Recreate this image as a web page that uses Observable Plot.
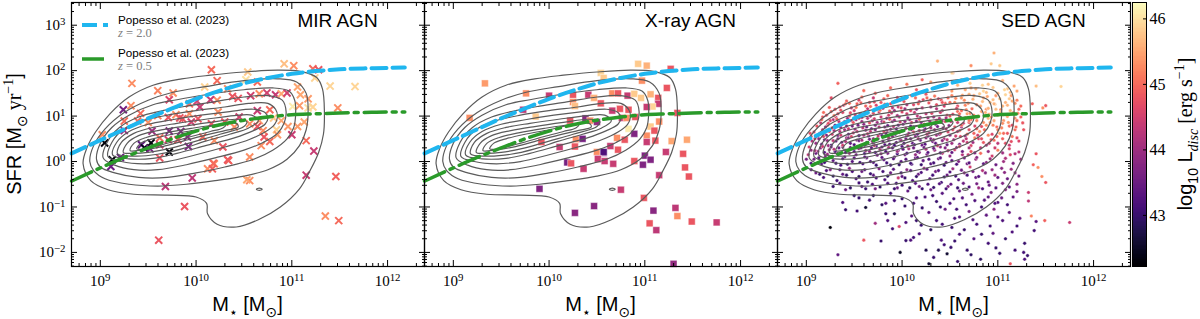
<!DOCTYPE html>
<html><head><meta charset="utf-8">
<script src="https://cdn.jsdelivr.net/npm/d3@7"></script>
<script src="https://cdn.jsdelivr.net/npm/@observablehq/plot@0.6"></script>
<style>
body{margin:0;background:#fff;}
#wrap{position:relative;width:1200px;height:319px;overflow:hidden;background:#fff;}
#wrap svg{position:absolute;top:0;background:none;overflow:visible;}
</style></head><body><div id="wrap"></div>
<script>
// ---------------- data (log10 M*, log10 SFR, log10 Ldisc) ----------------
const panelTitles = ["MIR AGN", "X-ray AGN", "SED AGN"];
const xTickValues = [1e9, 1e10, 1e11, 1e12];
const yTickValues = [1e-2, 1e-1, 1, 10, 100, 1000];
const cbTickValues = [43, 44, 45, 46];
const legendLabels = ["Popesso et al. (2023)", "z = 2.0", "z = 0.5"];

const popessoLogM = [8.70, 9.00, 9.25, 9.50, 9.75, 10.00, 10.25, 10.50, 10.75, 11.00, 11.25, 11.50, 11.75, 12.00, 12.18];
const popessoZ20  = [0.18, 0.47, 0.71, 0.95, 1.17, 1.38, 1.56, 1.72, 1.84, 1.93, 1.99, 2.03, 2.05, 2.06, 2.07];
const popessoZ05  = [-0.43, -0.14, 0.09, 0.30, 0.50, 0.67, 0.81, 0.91, 0.98, 1.03, 1.05, 1.07, 1.08, 1.09, 1.09];

const contour1 = [[8.82,-0.05],[8.86,0.30],[8.95,0.65],[9.10,1.05],[9.30,1.42],[9.55,1.68],[9.85,1.82],[10.15,1.90],[10.50,1.97],[10.85,2.01],[11.10,1.98],[11.26,1.85],[11.32,1.60],[11.34,1.10],[11.33,0.60],[11.28,0.20],[11.19,-0.20],[11.08,-0.60],[10.88,-1.00],[10.65,-1.28],[10.42,-1.44],[10.22,-1.38],[10.12,-1.15],[10.11,-0.92],[10.00,-0.78],[9.70,-0.74],[9.35,-0.72],[9.08,-0.62],[8.90,-0.42]];
const contour2 = [[8.89,0.00],[8.93,0.35],[9.05,0.72],[9.25,1.08],[9.50,1.35],[9.75,1.52],[10.10,1.65],[10.50,1.78],[10.85,1.82],[11.05,1.75],[11.15,1.50],[11.17,1.10],[11.15,0.70],[11.08,0.35],[10.95,0.05],[10.75,-0.18],[10.50,-0.32],[10.20,-0.42],[9.90,-0.50],[9.60,-0.54],[9.30,-0.50],[9.05,-0.38],[8.93,-0.20]];
const contour3 = [[8.96,0.05],[9.00,0.40],[9.12,0.75],[9.30,1.02],[9.55,1.25],[9.80,1.36],[10.10,1.47],[10.50,1.58],[10.80,1.62],[10.97,1.55],[11.03,1.35],[11.04,1.05],[11.02,0.75],[10.95,0.50],[10.80,0.25],[10.60,0.05],[10.30,-0.12],[10.00,-0.25],[9.70,-0.35],[9.40,-0.35],[9.15,-0.25],[9.00,-0.12]];
const contour4 = [[9.03,0.08],[9.07,0.42],[9.20,0.75],[9.40,0.98],[9.65,1.12],[9.90,1.22],[10.20,1.32],[10.50,1.42],[10.75,1.45],[10.90,1.35],[10.94,1.10],[10.92,0.85],[10.85,0.62],[10.70,0.42],[10.50,0.25],[10.20,0.08],[9.90,-0.07],[9.60,-0.18],[9.35,-0.18],[9.15,-0.08]];
const contour5 = [[9.08,0.11],[9.12,0.42],[9.25,0.72],[9.45,0.90],[9.70,1.02],[10.00,1.12],[10.30,1.20],[10.55,1.28],[10.75,1.28],[10.83,1.15],[10.85,0.98],[10.82,0.82],[10.72,0.65],[10.55,0.48],[10.30,0.32],[10.00,0.15],[9.70,0.00],[9.45,-0.05],[9.22,0.00]];
const contour6 = [[9.13,0.14],[9.17,0.42],[9.30,0.66],[9.50,0.82],[9.75,0.92],[10.05,1.02],[10.35,1.10],[10.60,1.15],[10.72,1.08],[10.75,0.95],[10.72,0.82],[10.60,0.68],[10.40,0.52],[10.10,0.35],[9.80,0.18],[9.55,0.07],[9.30,0.06]];
const contour7 = [[9.18,0.17],[9.22,0.42],[9.35,0.62],[9.55,0.75],[9.80,0.84],[10.10,0.93],[10.40,1.01],[10.58,1.02],[10.65,0.90],[10.55,0.74],[10.35,0.60],[10.10,0.45],[9.85,0.28],[9.60,0.16],[9.35,0.12]];
const contour8 = [[9.24,0.20],[9.28,0.40],[9.40,0.57],[9.60,0.68],[9.85,0.77],[10.15,0.86],[10.42,0.93],[10.53,0.88],[10.50,0.77],[10.25,0.60],[10.00,0.45],[9.75,0.30],[9.50,0.20],[9.32,0.18]];
const contour9 = [[9.31,0.24],[9.35,0.40],[9.48,0.53],[9.68,0.63],[9.95,0.73],[10.25,0.82],[10.42,0.84],[10.44,0.76],[10.30,0.68],[10.10,0.58],[9.88,0.46],[9.65,0.33],[9.45,0.26]];
const contour10 = [[9.38,0.28],[9.42,0.40],[9.55,0.50],[9.75,0.60],[10.00,0.70],[10.22,0.80],[10.31,0.81],[10.28,0.74],[10.15,0.66],[9.95,0.55],[9.75,0.43],[9.55,0.32],[9.44,0.27]];
const contourIsland = [[10.63,-0.61],[10.66,-0.585],[10.69,-0.61],[10.66,-0.635]];

const mirAGN = [
[10.16,2.02,45.0],[9.33,1.72,45.3],[9.60,1.56,45.2],[9.76,1.51,45.3],[9.72,1.36,44.6],[9.93,1.27,45.0],[10.01,1.33,44.5],[10.09,1.64,45.9],[10.22,1.78,45.0],[10.33,1.60,45.3],
[9.24,1.14,43.6],[9.32,1.23,45.3],[9.42,1.06,45.0],[9.25,0.89,45.0],[9.39,0.89,45.0],[9.50,0.86,45.3],[9.60,1.01,45.2],[9.71,0.97,44.8],[9.79,1.03,45.3],[9.86,0.94,44.8],
[9.95,0.87,44.5],[10.02,0.94,44.8],[10.16,0.83,44.8],[10.23,1.09,45.3],[10.30,0.87,44.8],[10.40,0.76,45.3],[10.45,0.98,44.5],[9.25,0.68,44.0],[9.54,0.67,44.0],[9.72,0.67,43.7],
[9.84,0.66,43.7],[9.62,0.52,45.0],[9.71,0.48,44.5],[9.81,0.48,44.8],[9.91,0.54,43.8],[9.43,0.37,43.4],[9.53,0.41,42.3],[9.46,0.30,42.4],[9.52,0.28,43.6],[9.62,0.37,44.5],
[9.92,0.33,43.7],[10.07,0.54,45.0],[10.19,0.46,45.3],[10.28,0.32,44.8],[9.72,0.21,42.3],[9.62,0.08,44.8],[9.045,0.41,42.3],[9.02,0.59,45.3],[9.125,0.04,42.3],[9.21,0.09,43.5],
[9.11,-0.11,43.5],[10.33,0.04,44.8],[10.19,-0.05,45.3],[10.12,-0.16,45.3],[9.96,-0.36,44.3],[9.68,-0.55,44.3],[9.88,-0.99,44.8],[9.61,-1.73,44.8],
[10.38,1.43,44.8],[10.44,1.39,44.8],[10.22,1.35,45.3],[10.15,1.36,44.4],[10.04,1.20,44.4],[9.93,1.05,45.3],[9.83,0.96,44.8],
[10.92,2.15,45.7],[11.02,2.11,45.3],[11.22,2.04,45.0],[11.28,2.02,44.8],[11.24,1.84,45.9],[11.40,1.66,45.9],[11.66,1.65,45.9],[10.64,1.75,45.0],[10.54,1.97,45.8],[10.52,1.80,46.0],
[10.57,1.45,44.5],[10.66,1.49,45.3],[10.74,1.51,44.5],[10.83,1.47,44.4],[10.89,1.49,45.5],[10.95,1.51,44.5],[11.06,1.64,45.5],[11.09,1.47,45.5],[11.17,1.38,45.4],[10.64,1.12,44.4],
[10.77,1.14,45.0],[11.01,1.21,46.1],[11.08,1.23,45.4],[11.17,1.18,46.0],[11.22,1.20,45.9],[11.48,1.18,45.3],[10.56,0.83,45.3],[10.66,0.90,45.4],[10.81,0.96,45.8],[10.89,0.90,45.5],
[10.64,0.77,44.8],[10.70,0.68,45.3],[10.84,0.70,45.9],[10.96,0.77,45.4],[11.06,0.77,45.4],[11.13,0.87,45.5],[11.00,0.59,44.4],[10.71,0.54,44.8],[10.77,0.44,45.0],[10.85,0.59,45.4],
[10.68,0.35,45.3],[10.56,0.10,45.3],[11.15,0.46,45.0],[11.23,0.23,44.4],[10.56,-0.42,45.3],[10.53,-0.40,45.5],[11.15,-0.30,44.4],[11.46,-0.33,44.9],[11.35,-1.20,45.3],[11.49,-1.30,45.0],
[10.18,-0.04,45.0],[10.17,-0.16,44.9],[10.34,0.02,44.9]
];

const xrayAGN = [
[9.33,1.72,45.4],[9.17,0.96,45.3],[9.76,1.50,45.3],[10.00,1.45,44.4],[10.25,1.47,44.8],[10.41,1.47,44.4],[10.47,1.40,45.6],[10.25,1.31,45.3],[10.27,1.22,45.7],[10.54,1.28,44.8],
[10.54,1.95,45.9],[9.73,1.14,44.3],[9.86,0.99,45.8],[10.22,0.90,44.8],[10.38,0.95,43.8],[10.43,0.90,45.3],[10.50,0.87,43.9],[9.92,0.43,44.8],[10.11,0.32,44.4],[10.28,0.49,45.3],
[10.27,0.33,44.8],[10.35,0.50,43.6],[10.50,0.21,45.3],[10.57,0.19,43.6],[10.51,0.05,44.8],[10.19,-0.02,43.6],[10.23,-0.04,44.8],[10.36,-0.16,44.4],[9.90,-0.60,43.7],[10.27,-1.13,43.8],
[10.47,-0.98,43.8],
[10.93,2.15,45.8],[11.02,2.11,45.6],[11.27,2.04,44.8],[10.97,1.78,45.3],[11.23,1.62,44.8],[10.57,1.84,45.8],[10.66,1.50,45.3],[10.72,1.50,44.8],[10.82,1.45,44.4],
[10.89,1.49,45.8],[10.96,1.40,45.8],[11.06,1.48,45.6],[11.14,1.40,44.8],[11.14,1.27,44.4],[11.08,1.21,45.9],[10.66,1.12,44.4],[10.74,1.16,44.8],[10.83,1.14,44.8],[11.02,1.20,44.4],
[11.34,1.07,44.8],[10.76,0.96,44.4],[10.81,0.96,45.3],[10.90,0.98,44.8],[11.15,0.88,45.3],[11.06,0.77,45.8],[10.83,0.72,46.1],[10.89,0.61,43.7],[11.02,0.57,45.3],[11.10,0.68,44.8],
[11.11,0.46,44.8],[10.71,0.52,45.3],[10.79,0.48,44.8],[11.28,0.45,45.5],[11.44,0.48,45.5],[11.02,0.43,44.4],[10.64,0.34,44.4],[10.72,0.26,44.8],[10.57,0.21,43.2],[10.51,0.06,44.4],
[10.58,0.01,44.4],[10.67,-0.05,44.4],[10.89,0.01,44.8],[11.00,0.13,43.7],[11.06,0.04,43.7],[10.98,-0.07,43.7],[11.22,0.21,44.4],[11.40,0.17,44.8],[11.42,-0.13,44.8],[11.46,-0.33,44.8],
[11.15,-0.30,44.4],[10.75,-0.62,44.4],[10.99,-0.80,44.8],[11.32,-1.02,44.3],[11.34,-1.20,45.3],[11.09,-1.08,43.8],[11.05,-1.36,44.8],[11.12,-1.51,44.3],[11.49,-1.32,44.8],[11.75,-1.34,44.4],
[11.30,-2.25,43.9]
];

const sedAGN = [
[9.33,1.72,44.9],[9.60,1.56,45.0],[9.26,1.40,44.7],[10.37,2.21,45.6],[10.53,1.95,45.3],[10.21,1.80,44.9],[10.96,2.39,45.6],[10.93,2.15,45.8],[11.02,2.11,45.8],[10.72,2.11,45.3],
[10.52,1.95,45.9],[11.66,1.65,45.9],[11.40,1.66,45.7],[9.88,1.62,45.0],[10.05,1.70,45.1],[10.30,1.75,45.4],[10.62,1.80,45.5],[10.80,1.85,45.6],[10.45,1.68,45.3],[10.15,1.58,44.8],
[10.72,1.62,45.5],[10.90,1.70,45.7],[11.05,1.78,45.6],[11.10,1.60,45.8],[11.20,1.55,45.5],[9.72,1.50,44.9],[10.85,1.55,45.9],
[9.35,1.20,44.8],[9.45,1.28,45.0],[9.55,1.35,44.6],[9.62,1.22,44.9],[9.70,1.40,44.4],[9.78,1.30,44.8],[9.85,1.45,45.0],[9.90,1.18,44.3],[9.98,1.35,44.7],[10.05,1.25,44.2],
[10.10,1.45,44.9],[10.18,1.32,44.5],[10.25,1.48,44.8],[10.30,1.20,44.1],[10.38,1.38,44.6],[10.45,1.28,44.9],[10.52,1.45,45.2],[10.58,1.22,44.7],[10.65,1.35,45.3],[10.70,1.48,45.6],
[10.78,1.25,45.2],[10.85,1.40,45.5],[10.92,1.30,45.7],[10.98,1.45,45.4],[11.05,1.22,45.6],[11.12,1.38,45.8],[11.18,1.28,45.3],[11.36,1.27,44.9],[11.50,1.23,44.8],[11.47,1.18,45.3],
[9.50,1.12,44.5],[9.92,1.12,44.0],[10.42,1.12,44.4],[10.88,1.15,45.4],[10.62,1.12,45.0],[10.15,1.15,43.9],
[9.17,0.98,44.8],[9.22,0.80,44.5],[9.28,0.92,44.2],[9.33,1.05,44.7],[9.36,0.75,43.9],[9.40,0.88,44.4],[9.45,1.00,44.8],[9.48,0.78,43.6],[9.52,0.92,44.1],[9.56,1.05,44.6],
[9.60,0.82,43.8],[9.64,0.95,44.3],[9.68,0.72,43.5],[9.70,1.06,44.7],[9.74,0.86,44.0],[9.78,0.98,44.4],[9.82,0.76,43.7],[9.86,1.02,44.5],[9.90,0.88,43.9],[9.94,0.72,43.4],
[9.97,0.98,44.2],[10.01,0.82,43.7],[10.05,1.05,44.5],[10.08,0.92,44.0],[10.12,0.76,43.5],[10.16,1.00,44.3],[10.20,0.86,43.8],[10.24,0.72,43.4],[10.27,0.96,44.1],[10.31,1.06,44.6],
[10.35,0.82,43.6],[10.39,0.95,44.2],[10.43,0.74,43.9],[10.47,1.02,44.7],[10.51,0.88,44.3],[10.55,0.76,44.8],[10.60,0.98,45.1],[10.64,0.84,44.5],[10.68,1.05,45.4],[10.72,0.92,45.0],
[10.76,0.78,44.6],[10.80,1.00,45.5],[10.85,0.86,45.3],[10.90,0.95,45.7],[10.95,0.80,45.2],[11.00,1.02,45.6],[11.06,0.90,45.4],[11.12,0.78,45.0],[11.18,0.95,45.3],[11.26,0.85,44.8],
[9.05,0.55,44.6],[9.10,0.40,43.9],[9.14,0.62,44.3],[9.19,0.48,43.6],[9.23,0.35,44.0],[9.27,0.60,44.5],[9.31,0.45,43.5],[9.35,0.66,44.2],[9.38,0.32,43.7],[9.42,0.52,44.0],
[9.46,0.40,43.4],[9.49,0.63,44.4],[9.53,0.47,43.8],[9.57,0.35,43.5],[9.60,0.58,44.1],[9.63,0.42,43.6],[9.67,0.66,44.3],[9.70,0.50,43.9],[9.73,0.34,43.3],[9.77,0.60,44.0],
[9.80,0.45,43.6],[9.84,0.68,44.2],[9.87,0.38,43.4],[9.90,0.55,43.8],[9.94,0.42,43.5],[9.97,0.64,44.1],[10.00,0.33,43.3],[10.04,0.50,43.7],[10.07,0.62,44.0],[10.11,0.40,43.4],
[10.14,0.56,43.8],[10.18,0.68,44.3],[10.21,0.36,43.5],[10.25,0.52,43.9],[10.28,0.63,44.4],[10.32,0.44,43.6],[10.36,0.58,44.0],[10.40,0.32,43.8],[10.44,0.50,44.2],[10.48,0.65,44.6],
[10.52,0.40,44.0],[10.56,0.56,44.5],[10.60,0.68,44.9],[10.64,0.45,44.3],[10.68,0.60,45.0],[10.72,0.35,44.6],[10.76,0.52,45.2],[10.81,0.66,45.4],[10.85,0.42,44.8],[10.90,0.58,45.3],
[10.96,0.47,45.0],[11.02,0.62,45.5],[11.08,0.40,44.7],[11.15,0.55,45.1],[11.22,0.45,44.6],
[9.02,0.15,44.3],[9.08,0.05,43.6],[9.12,0.22,44.0],[9.16,-0.05,43.3],[9.20,0.12,43.7],[9.24,0.26,44.1],[9.28,0.02,43.4],[9.32,0.18,43.8],[9.36,-0.08,43.2],[9.40,0.10,43.5],
[9.44,0.25,43.9],[9.48,0.00,43.3],[9.52,0.15,43.6],[9.55,0.28,44.0],[9.59,-0.05,43.2],[9.63,0.08,43.5],[9.66,0.22,43.8],[9.70,-0.02,43.3],[9.74,0.14,43.6],[9.77,0.27,44.1],
[9.81,0.04,43.4],[9.85,0.18,43.7],[9.88,-0.08,43.1],[9.92,0.10,43.5],[9.96,0.24,43.9],[9.99,0.00,43.3],[10.03,0.15,43.6],[10.07,0.28,44.2],[10.10,-0.06,43.2],[10.14,0.08,43.5],
[10.18,0.20,43.8],[10.22,0.02,43.4],[10.26,0.16,43.7],[10.30,-0.05,43.3],[10.34,0.25,44.0],[10.38,0.06,43.6],[10.42,0.18,44.3],[10.46,-0.02,43.5],[10.50,0.12,43.9],[10.55,0.26,44.5],
[10.59,0.00,43.7],[10.63,0.15,44.2],[10.68,-0.05,43.6],[10.72,0.22,44.8],[10.77,0.05,44.0],[10.82,0.18,45.0],[10.88,-0.02,43.8],[10.94,0.12,44.5],[11.00,0.25,45.2],[11.06,0.00,44.0],
[11.13,0.15,44.6],[11.22,0.21,44.3],[11.40,0.17,44.8],
[9.10,-0.25,43.5],[9.18,-0.35,43.2],[9.25,-0.18,43.7],[9.32,-0.42,43.1],[9.38,-0.28,43.4],[9.45,-0.15,43.8],[9.52,-0.38,43.2],[9.58,-0.22,43.5],[9.64,-0.45,43.0],[9.70,-0.30,43.4],
[9.76,-0.16,43.7],[9.82,-0.40,43.2],[9.88,-0.25,43.5],[9.94,-0.48,43.1],[10.00,-0.33,43.4],[10.05,-0.18,43.8],[10.11,-0.42,43.2],[10.17,-0.28,43.5],[10.23,-0.15,43.9],[10.29,-0.38,43.3],
[10.35,-0.22,43.6],[10.41,-0.46,43.1],[10.47,-0.30,43.5],[10.53,-0.16,44.0],[10.59,-0.40,43.3],[10.65,-0.25,43.8],[10.71,-0.12,44.5],[10.77,-0.35,43.5],[10.84,-0.20,44.2],[10.90,-0.45,43.4],
[10.97,-0.30,44.0],[11.04,-0.15,43.8],[11.10,-0.38,43.5],[11.18,-0.25,43.9],[11.37,-0.07,44.9],[11.42,-0.13,45.3],[11.46,-0.33,45.3],[9.96,-0.36,44.4],
[9.38,-0.90,43.2],[9.41,-0.62,43.5],[9.50,-0.75,43.0],[9.58,-0.55,43.4],[9.66,-0.85,43.1],[9.72,-0.60,43.6],[9.79,-0.95,42.9],[9.83,-0.92,43.3],[9.88,-0.70,43.1],[9.95,-0.58,43.5],
[10.00,-0.82,43.0],[10.06,-0.65,43.4],[10.12,-0.92,43.1],[10.18,-0.55,43.6],[10.24,-0.78,43.2],[10.30,-0.62,43.5],[10.36,-0.88,43.0],[10.42,-0.70,43.3],[10.48,-0.55,43.7],[10.54,-0.82,43.2],
[10.60,-0.65,43.5],[10.67,-0.95,43.1],[10.73,-0.72,43.6],[10.80,-0.58,44.0],[10.86,-0.85,43.3],[10.93,-0.68,43.7],[11.00,-0.90,43.2],[11.08,-0.62,43.8],[11.16,-0.78,43.4],[11.32,-0.68,44.4],
[11.32,-0.87,44.3],[11.50,-0.46,44.8],
[9.41,-1.06,43.0],[9.53,-1.09,43.1],[9.62,-1.01,42.6],[9.72,-1.36,44.0],[9.83,-1.15,43.0],[9.92,-1.15,42.8],[9.97,-1.43,44.6],[10.04,-1.34,43.2],[9.90,-1.48,43.1],[10.10,-1.20,43.3],
[10.20,-1.40,43.0],[10.28,-1.12,43.4],[10.36,-1.30,43.1],[10.45,-1.05,43.5],[10.52,-1.45,43.0],[10.60,-1.22,43.3],[10.70,-1.10,43.6],[10.78,-1.38,43.1],[10.88,-1.18,43.4],[10.96,-1.05,43.8],
[11.05,-1.30,43.2],[11.12,-1.12,43.5],[11.20,-1.42,43.1],[11.35,-1.20,45.2],[11.40,-1.32,43.3],[11.49,-1.30,44.9],[11.75,-1.34,44.4],[9.25,-1.45,42.3],
[9.33,-2.05,43.4],[9.60,-1.73,44.8],[10.04,-1.74,43.0],[10.09,-1.73,43.2],[10.12,-1.67,43.1],[9.98,-2.00,42.5],[10.18,-1.59,43.2],[10.28,-2.25,42.6],[10.33,-2.11,43.0],[10.41,-1.73,43.2],
[10.44,-1.83,43.1],[10.47,-2.03,42.6],[10.51,-1.89,43.0],[10.60,-1.60,43.2],[10.68,-1.95,43.0],[10.75,-1.70,43.3],[10.82,-2.15,42.9],[10.90,-1.80,43.1],[10.95,-1.58,43.4],[11.02,-2.02,43.0],
[11.13,-2.25,44.8],[11.27,-2.00,43.1],[11.31,-2.07,43.0],[11.28,-2.15,43.2],[11.38,-1.52,43.1],[10.58,-2.20,43.0],[10.25,-1.95,42.8]
];

const sedAGNcore = [
[9.42,1.33,44.9],[9.58,1.42,45.0],[9.66,1.30,44.7],[9.81,1.38,44.9],[9.95,1.41,44.6],[10.02,1.32,44.8],[10.14,1.40,45.0],[10.22,1.36,44.7],[10.34,1.44,45.1],[10.41,1.35,44.8],
[10.56,1.39,45.3],[10.63,1.46,45.5],[10.74,1.37,45.6],[10.81,1.49,45.8],[10.95,1.36,45.7],[11.08,1.47,45.9],[11.15,1.33,45.5],
[9.30,1.15,44.8],[9.39,1.24,44.6],[9.47,1.18,44.4],[9.53,1.27,44.9],[9.64,1.16,44.3],[9.73,1.24,44.6],[9.80,1.17,44.2],[9.88,1.27,44.7],[9.96,1.20,44.4],[10.03,1.16,44.0],
[10.12,1.25,44.6],[10.21,1.18,44.3],[10.28,1.29,44.8],[10.36,1.16,44.2],[10.44,1.22,44.5],[10.50,1.30,45.0],[10.57,1.17,44.6],[10.66,1.24,45.2],[10.73,1.16,45.0],[10.82,1.22,45.5],
[10.90,1.17,45.6],[10.97,1.26,45.8],[11.03,1.14,45.3],[11.10,1.24,45.6],[11.22,1.15,45.0],
[9.21,1.02,44.7],[9.26,1.10,44.9],[9.31,0.97,44.3],[9.38,1.08,44.6],[9.43,0.95,44.0],[9.51,1.03,44.5],[9.58,0.97,44.1],[9.62,1.10,44.7],[9.67,1.00,44.2],[9.76,1.09,44.5],
[9.84,0.95,43.9],[9.89,1.07,44.4],[9.95,1.01,44.1],[10.00,1.09,44.6],[10.06,0.96,43.8],[10.13,1.08,44.4],[10.19,0.97,44.0],[10.25,1.05,44.3],[10.33,0.98,44.0],[10.40,1.08,44.5],
[10.46,0.96,44.1],[10.53,1.04,44.6],[10.58,1.10,45.0],[10.66,0.96,44.7],[10.71,1.06,45.3],[10.78,0.98,45.1],[10.87,1.08,45.6],[10.93,0.98,45.4],[11.03,1.08,45.7],[11.10,0.99,45.5],
[11.16,1.07,45.2],[11.24,0.98,44.9],
[9.15,0.85,44.4],[9.20,0.76,44.0],[9.25,0.90,44.6],[9.30,0.80,43.8],[9.34,0.88,44.3],[9.42,0.78,43.7],[9.47,0.90,44.2],[9.54,0.80,43.6],[9.58,0.88,44.0],[9.63,0.76,43.5],
[9.69,0.90,44.1],[9.72,0.80,43.7],[9.79,0.88,43.9],[9.85,0.79,43.5],[9.92,0.91,44.0],[9.96,0.80,43.6],[10.03,0.88,43.9],[10.09,0.78,43.4],[10.15,0.89,43.8],[10.22,0.78,43.5],
[10.29,0.88,44.0],[10.37,0.77,43.6],[10.42,0.89,44.1],[10.49,0.79,43.8],[10.58,0.86,44.4],[10.62,0.76,44.1],[10.70,0.86,44.8],[10.78,0.90,45.2],[10.83,0.77,44.7],[10.92,0.86,45.5],
[10.99,0.76,45.0],[11.05,0.84,45.3],[11.15,0.80,44.7],[11.20,0.90,45.0],
[9.08,0.65,44.5],[9.12,0.56,44.0],[9.17,0.70,44.3],[9.21,0.58,43.7],[9.29,0.68,44.1],[9.33,0.57,43.6],[9.40,0.70,44.0],[9.44,0.60,43.5],[9.51,0.71,43.9],[9.55,0.57,43.4],
[9.62,0.69,43.8],[9.65,0.56,43.3],[9.72,0.70,43.7],[9.79,0.57,43.4],[9.83,0.62,43.6],[9.88,0.71,43.9],[9.93,0.60,43.4],[10.00,0.68,43.7],[10.05,0.57,43.3],[10.10,0.70,43.8],
[10.16,0.60,43.5],[10.23,0.68,43.9],[10.27,0.56,43.4],[10.34,0.70,44.0],[10.39,0.60,43.6],[10.46,0.72,44.2],[10.50,0.58,43.8],[10.58,0.66,44.4],[10.66,0.56,44.0],[10.70,0.70,44.7],
[10.79,0.58,44.5],[10.86,0.70,45.0],[10.94,0.60,44.6],[11.00,0.70,45.2],[11.10,0.62,44.8],[11.18,0.70,45.0],
[9.06,0.45,44.2],[9.13,0.50,43.8],[9.16,0.38,43.4],[9.22,0.46,43.9],[9.26,0.36,43.3],[9.33,0.50,43.7],[9.37,0.42,43.4],[9.44,0.52,43.8],[9.50,0.37,43.2],[9.55,0.46,43.5],
[9.61,0.36,43.3],[9.66,0.49,43.6],[9.70,0.40,43.2],[9.75,0.50,43.7],[9.82,0.37,43.3],[9.86,0.48,43.6],[9.92,0.36,43.2],[9.98,0.48,43.5],[10.02,0.40,43.3],[10.09,0.50,43.6],
[10.13,0.37,43.2],[10.19,0.47,43.5],[10.24,0.38,43.3],[10.30,0.50,43.7],[10.35,0.40,43.4],[10.42,0.46,43.8],[10.47,0.37,43.5],[10.54,0.48,44.0],[10.60,0.38,43.7],[10.67,0.50,44.3],
[10.74,0.42,44.0],[10.80,0.50,44.6],[10.88,0.36,44.2],[10.93,0.48,44.8],[11.00,0.40,44.3],[11.05,0.50,44.9],[11.12,0.36,44.4],[11.20,0.52,44.7],
[9.05,0.25,43.9],[9.10,0.18,43.5],[9.15,0.30,43.8],[9.19,0.20,43.3],[9.26,0.32,43.6],[9.30,0.22,43.2],[9.34,0.30,43.5],[9.41,0.20,43.2],[9.46,0.31,43.6],[9.50,0.22,43.3],
[9.57,0.30,43.5],[9.61,0.18,43.1],[9.68,0.30,43.4],[9.72,0.20,43.2],[9.79,0.32,43.5],[9.83,0.22,43.2],[9.90,0.30,43.4],[9.95,0.17,43.1],[10.01,0.27,43.4],[10.05,0.18,43.2],
[10.12,0.30,43.5],[10.16,0.22,43.2],[10.23,0.31,43.5],[10.27,0.20,43.3],[10.33,0.29,43.5],[10.40,0.19,43.3],[10.45,0.30,43.7],[10.52,0.20,43.4],[10.57,0.31,43.9],[10.63,0.22,43.5],
[10.70,0.30,44.1],[10.76,0.19,43.7],[10.82,0.30,44.3],[10.90,0.22,43.9],[10.97,0.30,44.5],[11.05,0.19,44.0],[11.12,0.28,44.6],[11.18,0.17,44.2],
[9.00,0.05,43.6],[9.05,-0.04,43.2],[9.13,0.08,43.4],[9.19,-0.02,43.1],[9.24,0.09,43.5],[9.31,-0.04,43.1],[9.38,0.06,43.3],[9.43,-0.06,43.0],[9.50,0.08,43.4],[9.56,-0.02,43.1],
[9.61,0.10,43.4],[9.67,0.00,43.2],[9.73,-0.08,43.0],[9.79,0.09,43.4],[9.84,-0.03,43.1],[9.91,0.06,43.3],[9.97,-0.07,43.0],[10.04,0.05,43.3],[10.09,-0.04,43.1],[10.16,0.09,43.4],
[10.20,-0.07,43.0],[10.28,0.05,43.3],[10.33,-0.03,43.1],[10.40,0.08,43.4],[10.44,-0.08,43.0],[10.52,0.02,43.3],[10.57,-0.06,43.2],[10.65,0.08,43.6],[10.70,-0.03,43.3],[10.78,0.09,43.8],
[10.85,-0.05,43.4],[10.92,0.06,44.0],[10.98,-0.07,43.5],[11.08,0.07,44.2],[11.16,-0.04,43.7],[11.24,0.05,44.0],
[9.05,-0.18,43.3],[9.14,-0.28,43.0],[9.21,-0.20,43.2],[9.28,-0.32,42.9],[9.35,-0.18,43.3],[9.42,-0.30,43.0],[9.48,-0.22,43.2],[9.55,-0.33,42.9],[9.61,-0.18,43.3],[9.67,-0.27,43.0],
[9.73,-0.36,43.2],[9.80,-0.22,43.1],[9.85,-0.32,42.9],[9.91,-0.17,43.3],[9.99,-0.25,43.1],[10.03,-0.36,43.0],[10.09,-0.20,43.3],[10.15,-0.33,43.0],[10.20,-0.24,43.2],[10.26,-0.17,43.4],
[10.32,-0.30,43.1],[10.38,-0.20,43.3],[10.44,-0.34,43.0],[10.50,-0.23,43.3],[10.56,-0.32,43.1],[10.62,-0.19,43.5],[10.68,-0.30,43.2],[10.74,-0.22,43.6],[10.80,-0.33,43.3],[10.87,-0.25,43.7],
[10.94,-0.18,43.9],[11.00,-0.35,43.4],[11.07,-0.24,43.8],[11.14,-0.17,44.0],[11.22,-0.32,43.6],
[9.28,-0.55,43.0],[9.35,-0.48,43.2],[9.46,-0.58,42.9],[9.55,-0.47,43.1],[9.62,-0.60,43.0],[9.69,-0.50,43.2],[9.77,-0.56,42.9],[9.85,-0.48,43.2],[9.92,-0.60,43.0],[10.00,-0.52,43.1],
[10.08,-0.58,42.9],[10.14,-0.48,43.3],[10.21,-0.60,43.0],[10.27,-0.50,43.2],[10.33,-0.57,43.0],[10.39,-0.49,43.3],[10.46,-0.60,43.1],[10.51,-0.50,43.4],[10.58,-0.58,43.0],[10.64,-0.48,43.5],
[10.70,-0.56,43.2],[10.78,-0.49,43.6],[10.84,-0.60,43.2],[10.91,-0.52,43.5],[10.98,-0.58,43.3],[11.05,-0.48,43.7],[11.12,-0.56,43.4],[11.20,-0.50,43.8],
[9.55,-0.80,43.0],[9.70,-0.75,42.9],[9.92,-0.86,43.1],[10.03,-0.98,43.0],[10.15,-0.80,43.2],[10.21,-1.02,43.0],[10.32,-0.75,43.1],[10.40,-1.00,43.0],[10.50,-0.92,43.2],[10.57,-1.05,43.1],
[10.63,-0.80,43.3],[10.76,-0.86,43.2],[10.83,-1.00,43.1],[10.90,-0.78,43.4],[10.97,-0.92,43.2],[11.04,-0.80,43.5],[11.10,-0.95,43.1],[11.20,-0.66,43.6],[10.15,-1.30,43.0],[10.30,-1.50,42.9],
[10.42,-1.38,43.1],[10.55,-1.25,43.2],[10.65,-1.50,43.0],[10.74,-1.28,43.2],[10.83,-1.60,43.0],[10.92,-1.42,43.1],[11.00,-1.22,43.3],[11.08,-1.70,43.0],[11.15,-1.55,43.2],[11.23,-1.25,43.4],
[11.28,-1.80,43.0],[10.38,-1.95,42.8],[10.55,-1.75,43.0],[10.72,-2.05,42.9],[10.98,-1.90,43.0],[11.18,-1.95,43.1],[9.78,-1.75,43.0],[9.85,-1.30,43.2]
];

const sedAGNupper = [
[9.18,1.08,45.0],[9.24,1.19,44.9],[9.29,1.01,45.1],[9.36,1.13,44.8],[9.41,1.27,45.0],[9.46,1.07,44.7],[9.52,1.19,45.1],[9.57,1.29,44.9],[9.61,1.06,44.8],[9.67,1.21,45.0],
[9.71,1.31,44.7],[9.77,1.13,45.1],[9.82,1.26,44.9],[9.87,1.11,44.8],[9.93,1.33,45.0],[9.99,1.18,44.7],[10.04,1.39,44.9],[10.09,1.12,44.6],[10.17,1.27,44.9],[10.26,1.40,45.0],
[9.11,0.78,44.8],[9.16,0.92,45.0],[9.23,0.84,44.7],[9.27,0.74,44.5],[9.32,0.93,44.9],[9.37,0.83,44.6],[9.44,0.72,44.4],[9.49,0.86,44.8],[9.55,0.95,44.6],[9.59,0.74,44.3],
[9.66,0.85,44.7],[9.71,0.94,44.5],[9.76,0.76,44.2],[9.81,0.87,44.6],[9.87,0.93,44.8],[9.91,0.77,44.3],[9.98,0.87,44.5],[10.04,0.73,44.2],[10.10,0.86,44.6],[10.18,0.93,44.8],
[10.23,0.82,44.4],[10.30,0.74,44.1],[10.36,0.91,44.6],
[9.04,0.62,44.7],[9.09,0.50,44.5],[9.18,0.55,44.6],[9.24,0.66,44.8],[9.28,0.46,44.3],[9.36,0.58,44.5],[9.41,0.44,44.2],[9.47,0.55,44.6],[9.53,0.66,44.4],[9.58,0.47,44.1],
[9.64,0.61,44.5],[9.69,0.44,44.0],[9.75,0.56,44.4],[9.81,0.66,44.6],[9.86,0.52,44.2],[9.93,0.63,44.4],[9.99,0.46,44.0],[10.06,0.58,44.3],[10.12,0.65,44.6],[10.17,0.50,44.1],
[10.26,0.60,44.4],[10.33,0.48,44.0],
[9.03,0.32,44.5],[9.09,0.24,44.2],[9.17,0.33,44.4],[9.22,0.16,44.0],[9.29,0.27,44.3],[9.38,0.36,44.5],[9.45,0.18,44.0],[9.53,0.33,44.3],[9.62,0.24,44.1],[9.71,0.35,44.4],
[9.78,0.17,43.9],[9.86,0.31,44.2],[9.95,0.22,44.0],[10.06,0.34,44.3],[10.14,0.15,43.9],[10.25,0.27,44.2],[10.37,0.35,44.5],[10.48,0.24,44.3],[10.60,0.33,44.7],[10.69,0.15,44.4],
[10.52,1.55,45.4],[10.58,1.68,45.6],[10.66,1.58,45.5],[10.71,1.72,45.8],[10.77,1.60,45.6],[10.84,1.68,45.9],[10.88,1.52,45.7],[10.95,1.63,45.8],[11.00,1.50,45.6],[11.07,1.58,45.9],
[11.13,1.52,45.7],[11.17,1.66,45.5],[10.55,1.30,45.2],[10.62,1.40,45.4],[10.69,1.28,45.3],[10.75,1.45,45.5],[10.84,1.32,45.7],[10.89,1.43,45.5],[10.96,1.27,45.6],[11.02,1.38,45.8],
[11.08,1.30,45.6],[11.14,1.45,45.4],[11.20,1.35,45.2],[11.24,1.22,45.0],[10.60,1.05,45.0],[10.67,1.14,45.2],[10.75,1.02,45.3],[10.83,1.10,45.5],[10.91,1.04,45.6],[10.98,1.15,45.7],
[11.06,1.03,45.4],[11.13,1.12,45.6],[11.21,1.06,45.2],[10.62,0.80,44.9],[10.70,0.90,45.1],[10.78,0.72,45.0],[10.88,0.80,45.3],[10.96,0.90,45.5],[11.04,0.74,45.2],[11.11,0.86,45.4],
[11.19,0.76,45.0],[11.27,0.70,44.8],
[10.40,0.62,44.5],[10.47,0.48,44.3],[10.53,0.70,44.7],[10.61,0.55,44.6],[10.68,0.42,44.4],[10.75,0.62,44.9],[10.83,0.50,44.7],[10.91,0.40,44.5],[10.99,0.55,44.9],[11.06,0.62,45.0],
[11.14,0.44,44.7],[10.45,0.88,44.6],[10.50,1.00,44.8],[10.56,0.92,44.9],[10.42,1.30,44.8],[10.48,1.40,45.0],[10.36,1.25,44.7],[10.30,1.36,44.9]
];

// ---------------- layout / style ----------------
const H = 319, PW = 353, ML = 71, MT = 2, MB = 53;
const xDomain = [5e8, 2.43e12];
const yDomain = [4.9e-3, 3.16e3];
const cDomain = [42.22, 46.25];
const SANS = "'Liberation Sans', Arial, sans-serif";
const SERIF = "'Liberation Serif', 'DejaVu Serif', serif";
const SYM = "'DejaVu Sans', sans-serif";
const BLUE = "#1fb6ef", GREEN = "#2a9a2a";

const contours = [contour1, contour2, contour3, contour4, contour5, contour6, contour7, contour8, contour9, contour10, contourIsland];
const contourRows = contours.flatMap((c, k) => c.map(p => ({k, x: 10 ** p[0], y: 10 ** p[1]})));
const z20Rows = popessoLogM.map((m, i) => ({x: 10 ** m, y: 10 ** popessoZ20[i]}));
const z05Rows = popessoLogM.map((m, i) => ({x: 10 ** m, y: 10 ** popessoZ05[i]}));
const toRows = arr => arr.map(d => ({x: 10 ** d[0], y: 10 ** d[1], L: d[2]}));

const isMajor = t => Math.abs(Math.log10(t) - Math.round(Math.log10(t))) < 1e-6;
const xMinor = d3.scaleLog().domain(xDomain).ticks().filter(t => !isMajor(t));
const yMinor = d3.scaleLog().domain(yDomain).ticks().filter(t => !isMajor(t));
const expFmt = d => { const e = Math.round(Math.log10(d)); return "10^" + (e < 0 ? "\u2212" + (-e) : e); };

function superscriptTicks(svg) {
  d3.select(svg).selectAll('g[aria-label$="tick label"] text').each(function () {
    const s = this.textContent;
    if (!s.includes("^")) return;
    const [b, e] = s.split("^");
    const t = d3.select(this);
    t.text(null);
    t.append("tspan").text(b);
    t.append("tspan").attr("dy", "-0.48em").attr("font-size", "72%").text(e);
  });
}

function rich(sel, x, y, size, parts, attrs = {}) {
  const text = sel.append("text").attr("x", x).attr("y", y).attr("font-size", size)
    .attr("fill", attrs.fill || "black").attr("text-anchor", attrs.anchor || "start");
  if (attrs.transform) text.attr("transform", attrs.transform);
  let shift = 0;
  for (const p of parts) {
    const target = p.sub ? size * 0.28 : p.sup ? -size * 0.42 : 0;
    const ts = text.append("tspan").text(p.t).attr("font-family", p.font || SANS);
    if (target !== shift) ts.attr("dy", target - shift);
    if (p.sub || p.sup) ts.attr("font-size", size * 0.7);
    if (p.italic) ts.attr("font-style", "italic");
    shift = target;
  }
  return text;
}

function makePanel(i, pts, kind) {
  const rows = toRows(pts);
  let dots;
  if (kind === "mir") dots = Plot.dot(rows, {x: "x", y: "y", stroke: "L", symbol: "times", r: 3.3, strokeWidth: 2});
  else if (kind === "xray") dots = Plot.dot(rows, {x: "x", y: "y", fill: "L", symbol: "square", r: 3.9, stroke: "white", strokeOpacity: 0.55, strokeWidth: 0.8});
  else dots = Plot.dot(rows, {x: "x", y: "y", fill: "L", r: 1.8, stroke: "white", strokeWidth: 0.5, strokeOpacity: 0.85});

  const marks = [
    dots,
    Plot.line(contourRows, {x: "x", y: "y", z: "k", curve: "catmull-rom-closed", stroke: "#5b5b5b", strokeWidth: 1.2}),
    Plot.line(z20Rows, {x: "x", y: "y", curve: "monotone-x", stroke: BLUE, strokeWidth: 4, strokeDasharray: "15,6"}),
    Plot.line(z05Rows, {x: "x", y: "y", curve: "monotone-x", stroke: GREEN, strokeWidth: 3.5, strokeDasharray: "22,6,4,6"}),
    Plot.frame({stroke: "black", strokeWidth: 1.2}),
    Plot.axisX(xTickValues, {anchor: "bottom", tickSize: -6, fill: "none", label: null}),
    Plot.axisX(xMinor, {anchor: "bottom", tickSize: -3, fill: "none", label: null}),
    Plot.axisX(xTickValues, {anchor: "top", tickSize: -6, fill: "none", label: null}),
    Plot.axisX(xMinor, {anchor: "top", tickSize: -3, fill: "none", label: null}),
    Plot.axisY(yTickValues, {anchor: "left", tickSize: -6, fill: "none", label: null}),
    Plot.axisY(yMinor, {anchor: "left", tickSize: -3, fill: "none", label: null}),
    Plot.axisY(yTickValues, {anchor: "right", tickSize: -6, fill: "none", label: null}),
    Plot.axisY(yMinor, {anchor: "right", tickSize: -3, fill: "none", label: null}),
    Plot.axisX(xTickValues, {anchor: "bottom", tickSize: 0, tickPadding: 9, tickFormat: expFmt, fontSize: 15, fontFamily: SERIF, label: null})
  ];
  if (i === 0) marks.push(Plot.axisY(yTickValues, {anchor: "left", tickSize: 0, tickPadding: 6, tickFormat: expFmt, fontSize: 15, fontFamily: SERIF, label: null}));

  const svg = Plot.plot({
    width: ML + PW, height: H, marginLeft: ML, marginRight: 0, marginTop: MT, marginBottom: MB,
    x: {type: "log", domain: xDomain},
    y: {type: "log", domain: yDomain},
    color: {type: "linear", scheme: "magma", domain: cDomain},
    style: {background: "none", overflow: "visible", fontFamily: SANS},
    marks
  });
  svg.style.left = (i * PW) + "px";
  superscriptTicks(svg);
  const s = d3.select(svg);
  rich(s, ML + 0.755 * PW, 27, 19, [{t: panelTitles[i]}], {anchor: "middle"});
  rich(s, ML + PW / 2, 311, 20, [{t: "M"}, {t: "\u22C6", sub: true, font: SYM}, {t: " [M"}, {t: "\u2299", sub: true, font: SYM}, {t: "]"}], {anchor: "middle"});
  if (i === 0) {
    rich(s, 0, 0, 20, [{t: "SFR [M"}, {t: "\u2299", sub: true, font: SYM}, {t: " yr", font: SERIF}, {t: "\u22121", sup: true, font: SERIF}, {t: "]"}],
      {anchor: "middle", transform: "translate(21,134) rotate(-90)"});
    const g = s.append("g");
    g.append("line").attr("x1", 82).attr("x2", 108).attr("y1", 25).attr("y2", 25).attr("stroke", BLUE).attr("stroke-width", 4).attr("stroke-dasharray", "15,6");
    rich(g, 118, 24, 11.7, [{t: legendLabels[0]}]);
    rich(g, 118, 37, 12.5, [{t: "z", font: SERIF, italic: true}, {t: " = 2.0", font: SERIF}], {fill: "#808080"});
    g.append("line").attr("x1", 82).attr("x2", 108).attr("y1", 59).attr("y2", 59).attr("stroke", GREEN).attr("stroke-width", 3.5).attr("stroke-dasharray", "22,6,4,6");
    rich(g, 118, 57, 11.7, [{t: legendLabels[0]}]);
    rich(g, 118, 70, 12.5, [{t: "z", font: SERIF, italic: true}, {t: " = 0.5", font: SERIF}], {fill: "#808080"});
  }
  return svg;
}

const wrap = document.getElementById("wrap");
wrap.appendChild(makePanel(0, mirAGN, "mir"));
wrap.appendChild(makePanel(1, xrayAGN, "xray"));
wrap.appendChild(makePanel(2, sedAGN.concat(sedAGNcore, sedAGNupper), "sed"));

// colour bar
const cbStep = (cDomain[1] - cDomain[0]) / 200;
const cbSteps = d3.range(200).map(k => cDomain[0] + k * cbStep);
const cb = Plot.plot({
  width: 69, height: H, marginLeft: 1, marginRight: 54, marginTop: MT, marginBottom: MB,
  x: {domain: [0, 1], axis: null},
  y: {domain: cDomain},
  color: {type: "linear", scheme: "magma", domain: cDomain},
  style: {background: "none", overflow: "visible"},
  marks: [
    Plot.rect(cbSteps, {x1: 0, x2: 1, y1: d => d, y2: d => d + cbStep * 1.2, fill: d => d + cbStep / 2, shapeRendering: "crispEdges"}),
    Plot.frame({stroke: "black", strokeWidth: 1}),
    Plot.axisY(cbTickValues, {anchor: "right", tickSize: -4, fill: "none", label: null}),
    Plot.axisY(cbTickValues, {anchor: "right", tickSize: 0, tickPadding: 3, tickFormat: d => String(d), fontSize: 16, fontFamily: SERIF, label: null})
  ]
});
cb.style.left = "1131px";
rich(d3.select(cb), 0, 0, 20, [{t: "log"}, {t: "10", sub: true}, {t: " L"}, {t: "disc", sub: true, font: SERIF, italic: true}, {t: " [erg s", font: SERIF}, {t: "\u22121", sup: true, font: SERIF}, {t: "]", font: SERIF}],
  {anchor: "middle", transform: "translate(61,134) rotate(-90)"});
wrap.appendChild(cb);
</script></body></html>
